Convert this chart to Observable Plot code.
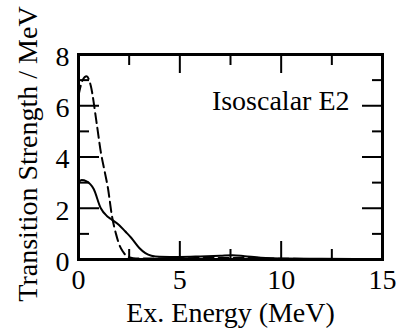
<!DOCTYPE html>
<html><head><meta charset="utf-8">
<script src="https://cdn.jsdelivr.net/npm/d3@7"></script>
<script src="https://cdn.jsdelivr.net/npm/@observablehq/plot@0.6"></script>
<style>
body{margin:0;background:#fff}
#chart svg, #chart svg text, #chart svg g { font-family: "Liberation Serif", "Times New Roman", Times, Tinos, "DejaVu Serif", serif !important; }
</style>
</head><body><div id="chart"></div>
<script>
// Solid curve
const solidX = [0, 0.15, 0.4, 0.75, 1.1, 1.4, 1.6, 2.0, 2.3, 2.6, 3.0, 3.3, 3.6, 4.0, 5, 6, 7, 7.6, 8.2, 9, 10, 12, 15];
const solidY = [3.0, 3.1, 3.05, 2.75, 2.0, 1.7, 1.58, 1.35, 1.1, 0.85, 0.45, 0.25, 0.15, 0.11, 0.1, 0.12, 0.15, 0.17, 0.13, 0.07, 0.04, 0.03, 0.02];
// Dashed curve
const dashX = [0, 0.2, 0.4, 0.6, 0.9, 1.1, 1.3, 1.45, 1.65, 1.85, 2.0, 2.2, 2.4, 2.7, 3, 5, 7, 8, 10, 15];
const dashY = [6.4, 7.0, 7.15, 6.8, 5.3, 4.2, 3.4, 2.8, 1.7, 1.0, 0.6, 0.3, 0.12, 0.05, 0.04, 0.05, 0.06, 0.06, 0.03, 0.01];
// Ticks
const xMajor = [0, 5, 10, 15];
const xMinor = [2.5, 7.5, 12.5];
const yMajor = [0, 2, 4, 6, 8];
const yMinor = [1, 3, 5, 7];
// Texts
const xTitle = "Ex. Energy (MeV)";
const yTitle = "Transition Strength / MeV";
const panelLabel = "Isoscalar E2";

const solid = solidX.map((x, i) => ({x, y: solidY[i]}));
const dashed = dashX.map((x, i) => ({x, y: dashY[i]}));

const tickStyle = {label: null, strokeWidth: 2, fill: "none"};

const chart = Plot.plot({
  width: 401,
  height: 330,
  marginLeft: 78,
  marginRight: 19,
  marginTop: 54,
  marginBottom: 71,
  style: "font-family: 'Liberation Serif', 'Times New Roman', Times, 'DejaVu Serif', serif; font-size: 28px; background: white; color: black;",
  x: {domain: [0, 15]},
  y: {domain: [0, 8]},
  marks: [
    Plot.line(solid, {x: "x", y: "y", curve: "monotone-x", stroke: "black", strokeWidth: 2}),
    Plot.line(dashed, {x: "x", y: "y", curve: "monotone-x", stroke: "black", strokeWidth: 2, strokeDasharray: "10,5"}),
    // x ticks bottom/top
    Plot.axisX(xMajor, {anchor: "bottom", ticks: xMajor, tickSize: -18, ...tickStyle}),
    Plot.axisX(xMinor, {anchor: "bottom", ticks: xMinor, tickSize: -10, ...tickStyle}),
    Plot.axisX(xMajor, {anchor: "top", ticks: xMajor, tickSize: -18, ...tickStyle}),
    Plot.axisX(xMinor, {anchor: "top", ticks: xMinor, tickSize: -10, ...tickStyle}),
    // y ticks left/right
    Plot.axisY(yMajor, {anchor: "left", ticks: yMajor, tickSize: -21, ...tickStyle}),
    Plot.axisY(yMinor, {anchor: "left", ticks: yMinor, tickSize: -11, ...tickStyle}),
    Plot.axisY(yMajor, {anchor: "right", ticks: yMajor, tickSize: -21, ...tickStyle}),
    Plot.axisY(yMinor, {anchor: "right", ticks: yMinor, tickSize: -11, ...tickStyle}),
    // tick labels
    Plot.axisX(xMajor, {anchor: "bottom", ticks: xMajor, tickSize: 0, tickPadding: 10, label: null, fill: "black"}),
    Plot.axisY(yMajor, {anchor: "left", ticks: yMajor, tickSize: 0, tickPadding: 9, dy: 2.5, label: null, fill: "black"}),
    Plot.frame({stroke: "black", strokeWidth: 3}),
    Plot.text([xTitle], {frameAnchor: "bottom", textAnchor: "middle", dy: 54, lineAnchor: "middle", fill: "black", fontFamily: "Liberation Serif"}),
    Plot.text([yTitle], {frameAnchor: "left", textAnchor: "middle", dx: -50, dy: -3, rotate: -90, lineAnchor: "middle", fill: "black", fontFamily: "Liberation Serif"}),
    Plot.text([panelLabel], {frameAnchor: "top-right", textAnchor: "end", dx: -33, dy: 47, lineAnchor: "middle", fill: "black", fontFamily: "Liberation Serif"})
  ]
});
document.getElementById("chart").appendChild(chart);
</script>
</body></html>
